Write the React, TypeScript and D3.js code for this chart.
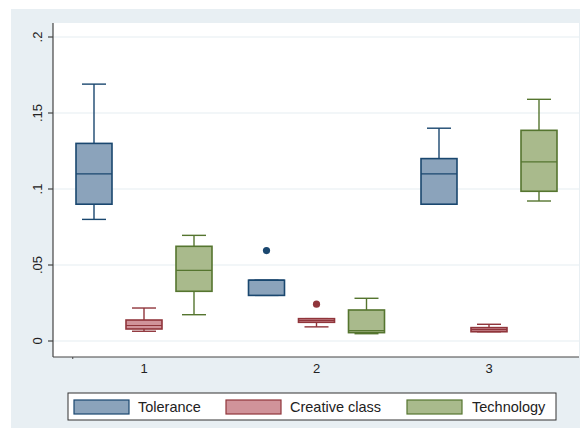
import React from "react";
import * as d3 from "d3";

const groups = ["1", "2", "3"];
const seriesNames = ["Tolerance", "Creative class", "Technology"];

// per series, per group: [min, q1, median, q3, max]
const toleranceStats = [
  [0.08, 0.09, 0.11, 0.13, 0.169],
  [0.03, 0.03, 0.04, 0.04, 0.04],
  [0.09, 0.09, 0.11, 0.12, 0.14],
];
const creativeStats = [
  [0.0064, 0.0079, 0.0102, 0.0138, 0.0217],
  [0.0093, 0.0123, 0.0135, 0.0147, 0.0147],
  [0.0061, 0.0061, 0.0075, 0.0088, 0.011],
];
const technologyStats = [
  [0.0173, 0.0327, 0.0465, 0.0623, 0.0695],
  [0.0048, 0.0055, 0.0068, 0.0204, 0.0281],
  [0.0921, 0.0985, 0.1178, 0.1386, 0.159],
];
const toleranceOutliers = [[], [0.0595], []];
const creativeOutliers = [[], [0.0242], []];
const technologyOutliers = [[], [], []];

const yTicks = [0, 0.05, 0.1, 0.15, 0.2];
const yTickLabels = ["0", ".05", ".1", ".15", ".2"];

const strokeColors = ["#1a476f", "#90353b", "#55752f"];
const fillColors = ["#8ba3bb", "#d0939a", "#a9ba8c"];

const W = 583;
const H = 428;
const plot = { left: 53, right: 579, top: 23, bottom: 357 };
const font = "'Liberation Sans', Arial, sans-serif";

export default function App() {
  const stats = [toleranceStats, creativeStats, technologyStats];
  const outliers = [toleranceOutliers, creativeOutliers, technologyOutliers];

  const y = d3.scaleLinear().domain([0, 0.2]).range([341, 37]);
  const xGroup = d3.scaleBand().domain(groups).range([57.75, 575.25]).padding(0);
  const xSub = d3
    .scaleBand()
    .domain(seriesNames)
    .range([-75, 75])
    .paddingInner(0.28)
    .paddingOuter(0.14);
  const bw = xSub.bandwidth();
  const capW = bw * (2 / 3);

  const legendItems = [
    { x: 74, tx: 138 },
    { x: 226, tx: 290 },
    { x: 407, tx: 472 },
  ];

  return (
    <svg
      width={W}
      height={H}
      style={{ position: "absolute", left: 0, top: 0 }}
      fontFamily={font}
    >
      <rect x={0} y={0} width={W} height={H} fill="#ffffff" />
      <rect x={11} y={9} width={569} height={H - 9} fill="#e8eff3" />
      <rect
        x={plot.left}
        y={plot.top}
        width={plot.right - plot.left}
        height={plot.bottom - plot.top}
        fill="#ffffff"
      />
      {/* gridlines */}
      {yTicks.map((t) => (
        <line
          key={"g" + t}
          x1={plot.left}
          x2={plot.right}
          y1={y(t)}
          y2={y(t)}
          stroke="#e6eef2"
          strokeWidth={1.2}
        />
      ))}
      {/* y axis */}
      <line x1={plot.left} x2={plot.left} y1={plot.top} y2={plot.bottom} stroke="#444" strokeWidth={1.2} />
      {yTicks.map((t, i) => (
        <g key={"t" + t}>
          <line x1={plot.left - 5} x2={plot.left} y1={y(t)} y2={y(t)} stroke="#444" strokeWidth={1.2} />
          <text
            transform={`translate(${42},${y(t)}) rotate(-90)`}
            textAnchor="middle"
            fontSize={13}
            fill="#222"
          >
            {yTickLabels[i]}
          </text>
        </g>
      ))}
      {/* x axis */}
      <line x1={plot.left} x2={plot.right} y1={plot.bottom} y2={plot.bottom} stroke="#444" strokeWidth={1.2} />
      <line
        x1={(xGroup.range()[0] as number) + 15}
        x2={(xGroup.range()[0] as number) + 15}
        y1={plot.bottom}
        y2={plot.bottom + 2}
        stroke="#444"
        strokeWidth={1}
      />
      {groups.map((g) => (
        <text
          key={"xl" + g}
          x={(xGroup(g) as number) + xGroup.bandwidth() / 2}
          y={373}
          textAnchor="middle"
          fontSize={13}
          fill="#222"
        >
          {g}
        </text>
      ))}
      {/* boxes */}
      {seriesNames.map((s, si) =>
        groups.map((g, gi) => {
          const [mn, q1, md, q3, mx] = stats[si][gi];
          const cx = (xGroup(g) as number) + xGroup.bandwidth() / 2 + (xSub(s) as number) + bw / 2;
          const sc = strokeColors[si];
          return (
            <g key={s + g}>
              <line x1={cx} x2={cx} y1={y(mx)} y2={y(q3)} stroke={sc} strokeWidth={1.4} />
              <line x1={cx} x2={cx} y1={y(q1)} y2={y(mn)} stroke={sc} strokeWidth={1.4} />
              <line x1={cx - capW / 2} x2={cx + capW / 2} y1={y(mx)} y2={y(mx)} stroke={sc} strokeWidth={1.4} />
              <line x1={cx - capW / 2} x2={cx + capW / 2} y1={y(mn)} y2={y(mn)} stroke={sc} strokeWidth={1.4} />
              <rect
                x={cx - bw / 2}
                y={y(q3)}
                width={bw}
                height={Math.max(0, y(q1) - y(q3))}
                fill={fillColors[si]}
                stroke={sc}
                strokeWidth={1.6}
              />
              <line x1={cx - bw / 2} x2={cx + bw / 2} y1={y(md)} y2={y(md)} stroke={sc} strokeWidth={1.2} />
              {outliers[si][gi].map((o, oi) => (
                <circle key={oi} cx={cx} cy={y(o)} r={3.6} fill={sc} />
              ))}
            </g>
          );
        })
      )}
      {/* legend */}
      <rect x={68} y={393} width={488} height={27} fill="#ffffff" stroke="#333" strokeWidth={1} />
      {seriesNames.map((s, i) => (
        <g key={"lg" + s}>
          <rect
            x={legendItems[i].x}
            y={400}
            width={55}
            height={14}
            fill={fillColors[i]}
            stroke={strokeColors[i]}
            strokeWidth={1.2}
          />
          <text x={legendItems[i].tx} y={412} fontSize={14.5} fill="#222">
            {s}
          </text>
        </g>
      ))}
    </svg>
  );
}
